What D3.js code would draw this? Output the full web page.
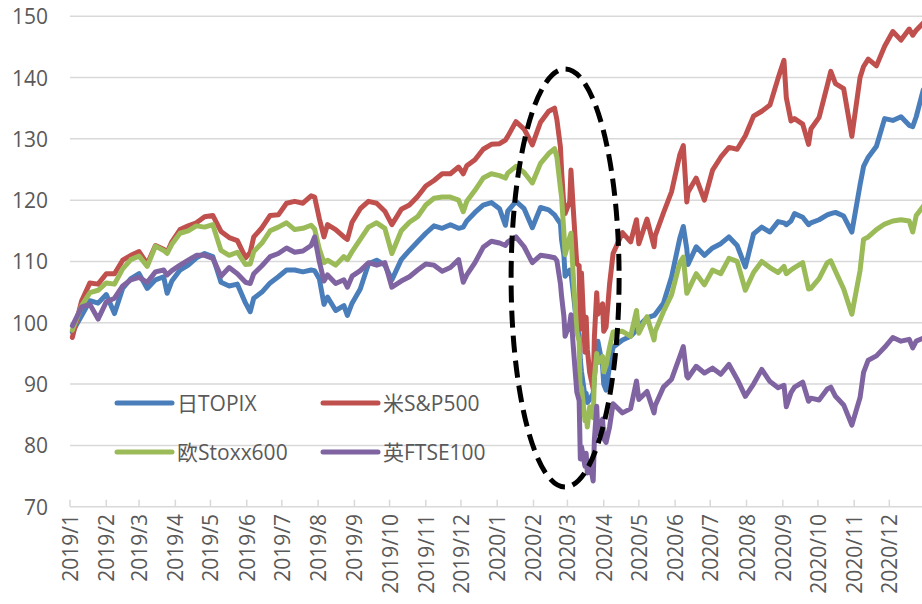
<!DOCTYPE html>
<html>
<head>
<meta charset="utf-8">
<script src="https://cdn.jsdelivr.net/npm/d3@7"></script>
<style>
  body { margin: 0; background: #fff; }
  svg { display: block; }
</style>
</head>
<body>
<div id="chart"></div>
<script>
// index values (end of 2018 = 100)
const dates = [
  '2019-01-03','2019-01-11','2019-01-18','2019-01-25','2019-02-01','2019-02-08','2019-02-15','2019-02-22',
  '2019-03-01','2019-03-08','2019-03-15','2019-03-22','2019-03-25','2019-03-29','2019-04-05','2019-04-12',
  '2019-04-19','2019-04-26','2019-05-03','2019-05-10','2019-05-17','2019-05-24','2019-05-31','2019-06-04',
  '2019-06-07','2019-06-14','2019-06-21','2019-06-28','2019-07-05','2019-07-12','2019-07-19','2019-07-26',
  '2019-07-29','2019-08-02','2019-08-06','2019-08-09','2019-08-16','2019-08-23','2019-08-26','2019-08-30',
  '2019-09-06','2019-09-13','2019-09-20','2019-09-27','2019-10-03','2019-10-11','2019-10-18','2019-10-25',
  '2019-11-01','2019-11-08','2019-11-15','2019-11-22','2019-11-29','2019-12-03','2019-12-06','2019-12-13',
  '2019-12-20','2019-12-27','2020-01-03','2020-01-08','2020-01-10','2020-01-17','2020-01-24','2020-01-31',
  '2020-02-07','2020-02-14','2020-02-19','2020-02-21','2020-02-24','2020-02-25','2020-02-27','2020-02-28',
  '2020-03-03','2020-03-04','2020-03-06','2020-03-09','2020-03-11','2020-03-12','2020-03-13','2020-03-16',
  '2020-03-17','2020-03-18','2020-03-20','2020-03-23','2020-03-24','2020-03-26','2020-03-27','2020-03-31',
  '2020-04-01','2020-04-03','2020-04-06','2020-04-09','2020-04-17','2020-04-24','2020-04-29','2020-05-01',
  '2020-05-08','2020-05-14','2020-05-15','2020-05-22','2020-05-29','2020-06-05','2020-06-08','2020-06-11',
  '2020-06-12','2020-06-19','2020-06-26','2020-07-03','2020-07-10','2020-07-17','2020-07-24','2020-07-31',
  '2020-08-07','2020-08-14','2020-08-21','2020-08-28','2020-09-02','2020-09-04','2020-09-08','2020-09-11',
  '2020-09-18','2020-09-23','2020-09-25','2020-10-02','2020-10-09','2020-10-12','2020-10-16','2020-10-23',
  '2020-10-30','2020-11-06','2020-11-09','2020-11-13','2020-11-20','2020-11-27','2020-12-04','2020-12-11',
  '2020-12-18','2020-12-21','2020-12-24','2020-12-30'
];

const topix = [
  98.5,101.2,103.6,103.2,104.6,101.5,105.6,107.2, 108.0,105.6,107.0,107.5,104.8,106.8,108.6,109.4,
  110.6,111.3,110.8,106.6,106.0,106.3,103.2,101.8, 104.0,105.0,106.5,107.5,108.6,108.6,108.3,108.6,
  108.5,107.2,103.0,104.2,102.0,102.8,101.2,103.2, 105.5,109.6,110.2,109.4,107.0,110.3,111.8,113.2,
  114.6,115.8,115.4,116.0,115.4,115.6,116.6,118.0, 119.2,119.6,118.6,115.9,118.2,119.8,118.6,115.5,
  118.8,118.4,117.6,117.0,116.2,113.5,111.0,107.6, 108.6,108.2,104.9,99.5,98.0,94.0,92.0,88.0,
  88.5,87.0,87.5,88.5,91.0,95.5,97.0,93.0, 90.0,89.0,93.0,96.0,97.2,97.8,98.8,99.5,
  100.8,101.2,101.4,103.2,107.5,113.8,115.7,112.0, 109.5,112.4,111.0,112.2,112.9,114.0,112.6,109.1,
  114.5,115.6,114.8,116.5,116.3,116.0,116.6,117.8, 117.2,116.0,116.3,116.8,117.6,117.8,118.0,117.4,
  114.8,122.5,125.5,127.0,128.8,133.3,133.0,133.6, 132.2,132.0,133.6,138.0
];

const sp500 = [
  97.6,103.6,106.5,106.3,108.0,108.0,110.2,111.0, 111.6,109.6,112.6,112.0,111.5,113.2,115.2,115.8,
  116.3,117.3,117.5,114.9,113.9,113.4,110.6,111.5, 114.0,115.5,117.5,117.6,119.5,119.8,119.5,120.7,
  120.5,117.0,114.0,116.0,115.2,114.0,113.6,116.4, 118.6,119.8,119.5,118.2,116.0,118.5,119.2,120.6,
  122.3,123.2,124.3,124.3,125.4,124.3,125.6,126.6, 128.3,129.1,129.2,129.8,130.4,132.8,131.6,129.0,
  132.7,134.5,135.0,133.1,128.7,124.8,118.8,117.8, 119.8,124.9,118.5,109.6,109.3,99.0,108.1,95.2,
  100.9,95.7,91.9,89.2,97.6,104.9,101.4,103.1, 98.6,99.3,106.3,111.3,114.7,113.2,116.8,112.9,
  116.9,112.4,114.2,117.9,121.4,127.4,128.9,119.7, 121.3,123.6,120.0,124.9,127.0,128.6,128.3,130.5,
  133.7,134.5,135.5,139.9,142.8,136.7,132.9,133.3, 132.4,129.1,131.6,133.5,138.7,141.0,139.0,138.2,
  130.4,140.0,141.8,143.0,141.9,145.1,147.5,146.1, 147.9,146.9,147.7,148.9
];

const stoxx600 = [
  98.8,102.8,104.9,105.3,106.5,106.3,108.8,110.3, 110.9,109.2,112.5,111.8,111.3,112.8,114.6,115.0,
  115.8,115.6,116.0,111.8,111.0,111.5,109.5,109.6, 111.6,113.0,115.0,115.6,116.3,115.2,115.4,115.9,
  115.3,112.0,109.8,110.2,109.4,110.8,110.3,111.6, 113.6,115.6,116.3,115.4,111.3,115.0,116.4,117.3,
  119.2,120.3,120.5,120.5,120.0,118.1,119.8,121.6, 123.6,124.3,124.0,123.6,124.4,125.5,124.5,122.8,
  126.0,127.6,128.4,127.0,122.0,120.5,114.6,111.1, 114.0,114.6,107.6,98.5,97.0,87.0,89.5,84.0,
  85.0,83.0,86.3,84.5,91.0,95.0,93.5,94.5, 92.0,93.0,96.0,98.5,98.6,97.8,102.0,98.3,
  101.0,97.2,98.6,101.8,104.6,109.8,110.7,104.8, 105.2,108.0,106.2,108.6,108.0,110.5,110.0,105.3,
  108.2,110.0,109.0,108.2,109.2,108.0,108.6,109.0, 109.8,105.5,105.6,107.2,109.8,110.1,108.4,105.5,
  101.4,108.5,113.6,114.0,115.2,116.1,116.6,116.8, 116.6,114.8,117.5,119.0
];

const ftse100 = [
  99.5,102.6,103.0,100.6,103.4,104.0,106.0,107.0, 107.4,106.6,108.3,108.6,107.8,108.5,109.4,110.2,
  111.0,111.0,110.5,107.6,109.0,108.0,106.6,106.4, 108.0,109.3,110.8,111.3,112.2,111.5,111.7,112.6,
  114.0,110.0,106.8,107.8,106.4,107.0,105.8,107.6, 108.5,109.8,109.4,109.8,105.8,106.8,107.5,108.6,
  109.6,109.4,108.4,109.0,110.3,106.6,107.8,109.8, 112.3,113.3,113.0,112.6,113.2,114.0,112.4,109.8,
  111.0,110.8,110.6,110.1,106.4,104.3,101.0,97.8, 99.9,101.3,96.1,88.7,87.3,77.8,79.8,76.6,
  78.7,75.5,77.2,74.2,80.9,86.4,81.9,84.3, 81.1,80.5,83.0,86.8,85.3,86.0,90.5,87.5,
  88.8,85.3,86.5,89.5,90.8,94.5,96.1,91.3, 91.0,92.9,91.8,92.6,91.6,93.2,90.8,88.0,
  90.0,92.4,90.4,89.4,89.8,86.3,88.6,89.5, 90.3,87.2,87.7,87.4,89.2,89.5,88.0,86.6,
  83.3,87.8,91.9,93.9,94.6,96.0,97.6,97.0, 97.3,95.9,97.0,97.5
];

const seriesNames = ['日TOPIX', '米S&P500', '欧Stoxx600', '英FTSE100'];
const seriesValues = [topix, sp500, stoxx600, ftse100];
const seriesColors = ['#4a7ebb', '#c0504d', '#9bbb59', '#8064a2'];
const yTicks = [70, 80, 90, 100, 110, 120, 130, 140, 150];

const WIDTH = 922;
const HEIGHT = 604;
const FONT = "'Open Sans', 'Noto Sans CJK JP', sans-serif";

const parseDate = d3.timeParse('%Y-%m-%d');
const dateValues = dates.map(parseDate);

const svg = d3
  .select('#chart')
  .append('svg')
  .attr('width', WIDTH)
  .attr('height', HEIGHT)
  .style('font-family', FONT);

const xScale = d3
  .scaleTime()
  .domain([new Date(2019, 0, 1), new Date(2021, 0, 1)])
  .range([70, 925.6]);

const yScale = d3.scaleLinear().domain([70, 150]).range([506.7, 16.2]);

// horizontal gridlines
svg
  .append('g')
  .selectAll('line')
  .data(yTicks)
  .join('line')
  .attr('x1', xScale.range()[0])
  .attr('x2', xScale.range()[1])
  .attr('y1', (d) => yScale(d))
  .attr('y2', (d) => yScale(d))
  .attr('stroke', '#d9d9d9')
  .attr('stroke-width', 1.5);

// y labels
svg
  .append('g')
  .selectAll('text')
  .data(yTicks)
  .join('text')
  .attr('x', 48)
  .attr('y', (d) => yScale(d))
  .attr('text-anchor', 'end')
  .attr('dominant-baseline', 'central')
  .attr('font-size', 21)
  .attr('fill', '#595959')
  .text((d) => d);

// x axis: monthly ticks pointing up, rotated labels
const months = d3.timeMonth.range(new Date(2019, 0, 1), new Date(2021, 0, 1));
const fmtMonth = d3.timeFormat('%Y/%-m');
const xAxis = svg.append('g');
xAxis
  .selectAll('line')
  .data(months)
  .join('line')
  .attr('x1', (d) => xScale(d))
  .attr('x2', (d) => xScale(d))
  .attr('y1', yScale(70) - 7)
  .attr('y2', yScale(70))
  .attr('stroke', '#d9d9d9')
  .attr('stroke-width', 1.5);
xAxis
  .selectAll('text')
  .data(months)
  .join('text')
  .attr('transform', (d) => `translate(${xScale(d)}, 514) rotate(-90)`)
  .attr('text-anchor', 'end')
  .attr('dominant-baseline', 'central')
  .attr('font-size', 21)
  .attr('fill', '#595959')
  .text((d) => fmtMonth(d));

// lines
const line = d3
  .line()
  .x((d) => xScale(d[0]))
  .y((d) => yScale(d[1]));

svg
  .append('g')
  .selectAll('path')
  .data(seriesValues)
  .join('path')
  .attr('d', (vals) => line(vals.map((v, i) => [dateValues[i], v])))
  .attr('fill', 'none')
  .attr('stroke', (d, i) => seriesColors[i])
  .attr('stroke-width', 5)
  .attr('stroke-linejoin', 'round')
  .attr('stroke-linecap', 'round');

// legend, 2 x 2 inside the plot
const legendPos = [
  [117, 403],
  [323, 403],
  [117, 452],
  [323, 452],
];
const legend = svg
  .append('g')
  .selectAll('g')
  .data(seriesNames)
  .join('g')
  .attr('transform', (d, i) => `translate(${legendPos[i][0]}, ${legendPos[i][1]})`);
legend
  .append('line')
  .attr('x1', 0)
  .attr('x2', 55)
  .attr('stroke', (d, i) => seriesColors[i])
  .attr('stroke-width', 5)
  .attr('stroke-linecap', 'round');
legend
  .append('text')
  .attr('x', 60)
  .attr('dominant-baseline', 'central')
  .attr('font-size', 21)
  .attr('fill', '#595959')
  .text((d) => d);

// dashed ellipse around the March 2020 crash
svg
  .append('ellipse')
  .attr('cx', xScale(new Date(2020, 1, 28)))
  .attr('cy', yScale(107.3))
  .attr('rx', 54)
  .attr('ry', 209)
  .attr('fill', 'none')
  .attr('stroke', '#000')
  .attr('stroke-width', 5)
  .attr('stroke-dasharray', '17,8');
</script>
</body>
</html>
